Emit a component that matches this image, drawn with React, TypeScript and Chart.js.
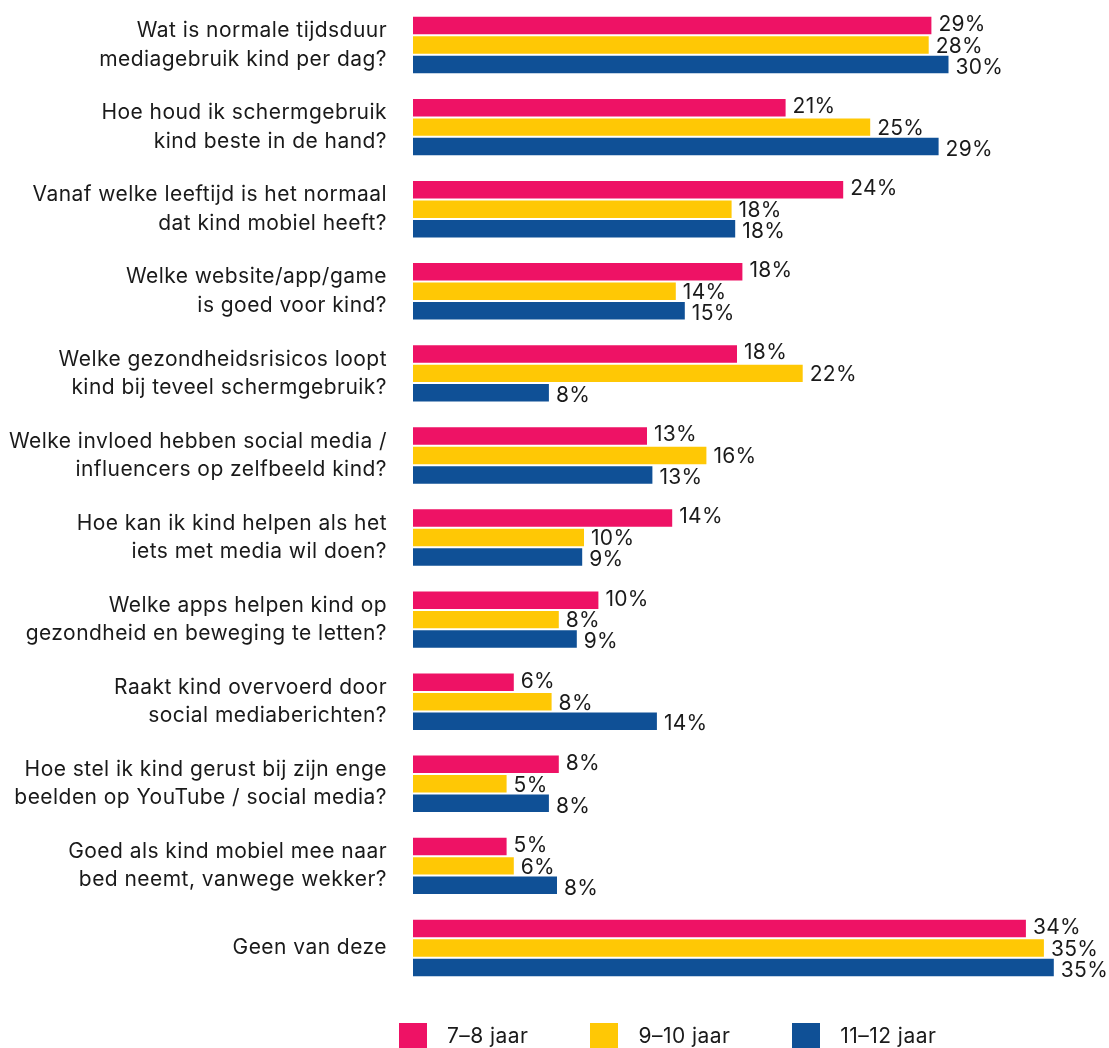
import { useEffect, useRef } from 'react';
import { Chart, registerables } from 'chart.js';

Chart.register(...registerables);

const FONT = 'Inter, "Noto Sans", sans-serif';
const TEXT = '#1a1a1a';

const categories: string[][] = [
  ['Wat is normale tijdsduur', 'mediagebruik kind per dag?'],
  ['Hoe houd ik schermgebruik', 'kind beste in de hand?'],
  ['Vanaf welke leeftijd is het normaal', 'dat kind mobiel heeft?'],
  ['Welke website/app/game', 'is goed voor kind?'],
  ['Welke gezondheidsrisicos loopt', 'kind bij teveel schermgebruik?'],
  ['Welke invloed hebben social media /', 'influencers op zelfbeeld kind?'],
  ['Hoe kan ik kind helpen als het', 'iets met media wil doen?'],
  ['Welke apps helpen kind op', 'gezondheid en beweging te letten?'],
  ['Raakt kind overvoerd door', 'social mediaberichten?'],
  ['Hoe stel ik kind gerust bij zijn enge', 'beelden op YouTube / social media?'],
  ['Goed als kind mobiel mee naar', 'bed neemt, vanwege wekker?'],
  ['Geen van deze'],
];

const seriesNames = ['7–8 jaar', '9–10 jaar', '11–12 jaar'];
const seriesColors = ['#EE1265', '#FFC805', '#0F5096'];

// bar lengths (percent)
const values78 = [28.8, 20.7, 23.9, 18.3, 18.0, 13.0, 14.4, 10.3, 5.6, 8.1, 5.2, 34.05];
const values910 = [28.65, 25.4, 17.7, 14.6, 21.65, 16.3, 9.5, 8.1, 7.7, 5.2, 5.6, 35.05];
const values1112 = [29.75, 29.2, 17.9, 15.1, 7.55, 13.3, 9.4, 9.1, 13.55, 7.55, 8.0, 35.6];

// printed labels (percent)
const labels78 = [29, 21, 24, 18, 18, 13, 14, 10, 6, 8, 5, 34];
const labels910 = [28, 25, 18, 14, 22, 16, 10, 8, 8, 5, 6, 35];
const labels1112 = [30, 29, 18, 15, 8, 13, 9, 9, 14, 8, 8, 35];

const X_MAX = 38;

export default function App() {
  const ref = useRef<HTMLCanvasElement>(null);

  useEffect(() => {
    document.body.style.margin = '0';
    const canvas = ref.current;
    if (!canvas) return;
    const labelSets = [labels78, labels910, labels1112];
    const dy = [-1, 1.5, 3];

    const spacing = {
      id: 'spacing',
      beforeDraw(chart: any) {
        chart.ctx.letterSpacing = '0.45px';
      },
    };

    const valueLabels = {
      id: 'valueLabels',
      afterDatasetsDraw(chart: any) {
        const c = chart.ctx;
        c.save();
        c.font = `21px ${FONT}`;
        c.letterSpacing = '0.3px';
        c.fillStyle = TEXT;
        c.textBaseline = 'middle';
        c.textAlign = 'left';
        chart.data.datasets.forEach((_ds: any, di: number) => {
          const meta = chart.getDatasetMeta(di);
          meta.data.forEach((bar: any, j: number) => {
            c.fillText(`${labelSets[di][j]}%`, bar.x + 7, bar.y + dy[di]);
          });
        });
        c.restore();
      },
    };

    const chart = new Chart(canvas, {
      type: 'bar',
      data: {
        labels: categories,
        datasets: [
          { label: seriesNames[0], data: values78, backgroundColor: seriesColors[0] },
          { label: seriesNames[1], data: values910, backgroundColor: seriesColors[1] },
          { label: seriesNames[2], data: values1112, backgroundColor: seriesColors[2] },
        ],
      },
      options: {
        indexAxis: 'y',
        responsive: false,
        animation: false,
        devicePixelRatio: 1,
        events: [],
        layout: { padding: { top: 4, bottom: 59, left: 0, right: 12 } },
        datasets: {
          bar: { categoryPercentage: 0.71, barPercentage: 0.9, borderWidth: 0 },
        },
        plugins: {
          legend: { display: false },
          tooltip: { enabled: false },
        },
        scales: {
          x: {
            display: false,
            min: 0,
            max: X_MAX,
          },
          y: {
            grid: { display: false, drawTicks: false },
            border: { display: false },
            afterFit: (scale: any) => {
              scale.width = 413;
              scale.paddingTop = 0;
              scale.paddingBottom = 0;
            },
            ticks: {
              padding: 26,
              color: TEXT,
              autoSkip: false,
              font: { family: FONT, size: 21, lineHeight: 1.35 },
            },
          },
        },
      },
      plugins: [spacing, valueLabels],
    });
    return () => chart.destroy();
  }, []);

  return (
    <div style={{ position: 'relative', width: 1109, height: 1048, overflow: 'hidden' }}>
      <canvas ref={ref} width={1109} height={1048} style={{ display: 'block' }} />
      <div
        style={{
          position: 'absolute',
          top: 1023,
          left: 399,
          display: 'flex',
          alignItems: 'center',
          fontFamily: FONT,
          fontSize: 21,
          letterSpacing: '0.45px',
          color: TEXT,
          lineHeight: '25px',
        }}
      >
        {seriesNames.map((name, i) => (
          <div key={name} style={{ display: 'flex', alignItems: 'center', marginRight: 62 }}>
            <span style={{ display: 'inline-block', width: 28, height: 25, background: seriesColors[i] }} />
            <span style={{ marginLeft: 20 }}>{name}</span>
          </div>
        ))}
      </div>
    </div>
  );
}
